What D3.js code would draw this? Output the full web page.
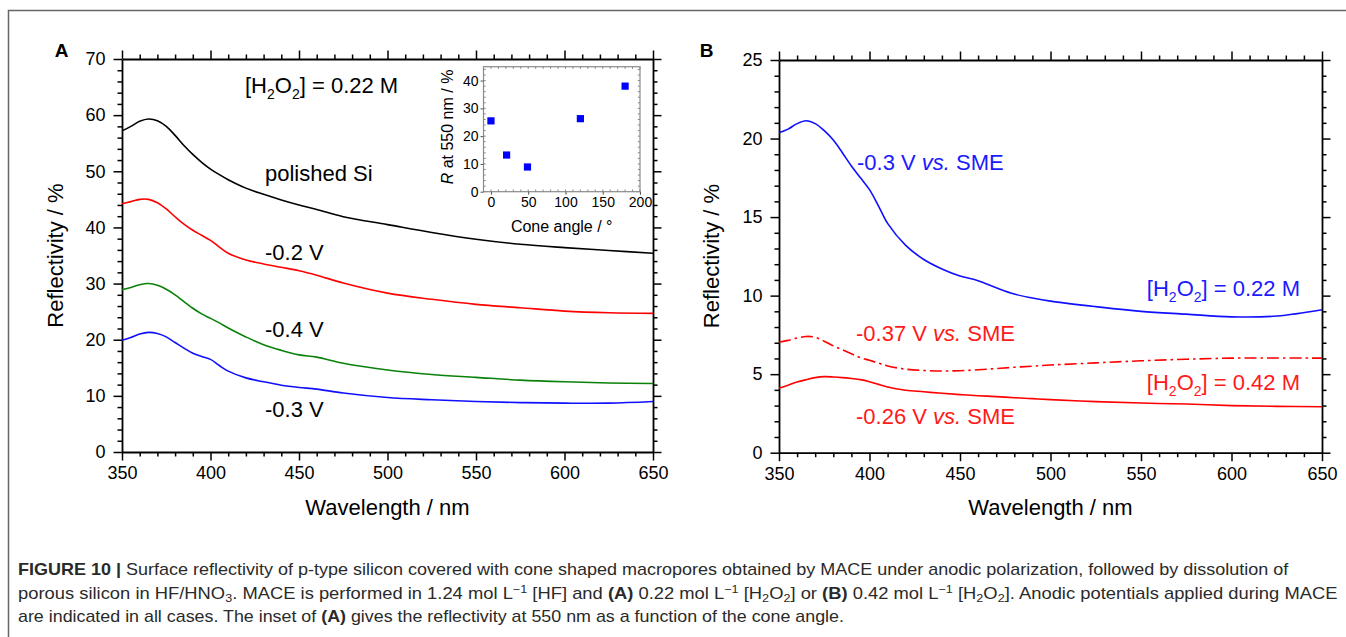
<!DOCTYPE html>
<html><head><meta charset="utf-8">
<script src="https://cdn.jsdelivr.net/npm/d3@7"></script>
<style>
body{margin:0;background:#fff}
svg{display:block}
text{font-family:"Liberation Sans",Arial,Helvetica,sans-serif}
</style>
</head><body><script>
// ---------- data ----------
const wavelengthsA = [350,355,360,365,370,375,380,385,390,395,400,405,410,420,430,440,450,460,475,500,525,550,575,600,625,650];
const polishedSi = [57.2,58.0,58.9,59.3,59.0,58.0,56.4,54.6,53.0,51.6,50.4,49.4,48.5,47.0,45.9,44.9,44.0,43.2,41.9,40.5,39.1,37.9,37.0,36.4,35.9,35.4];
const minus02V   = [44.2,44.6,45.0,45.0,44.4,43.3,41.9,40.6,39.5,38.6,37.7,36.5,35.4,34.2,33.5,32.9,32.3,31.5,30.1,28.3,27.2,26.3,25.7,25.1,24.8,24.7];
const minus04V   = [28.9,29.3,29.8,30.0,29.7,29.0,28.0,26.8,25.6,24.6,23.8,23.0,22.1,20.5,19.1,18.1,17.3,16.9,15.8,14.6,13.8,13.3,12.8,12.5,12.3,12.2];
const minus03V   = [19.9,20.4,21.0,21.3,21.1,20.5,19.5,18.5,17.6,17.0,16.5,15.4,14.4,13.2,12.5,11.9,11.5,11.2,10.5,9.7,9.3,9.0,8.8,8.7,8.7,9.0];

const wavelengthsB = [350,355,360,365,370,375,380,385,390,395,400,405,410,420,430,440,450,460,470,480,490,500,525,550,575,600,625,650];
const b022_m030 = [20.37,20.6,20.95,21.13,20.95,20.5,19.9,19.1,18.25,17.5,16.75,15.7,14.6,13.2,12.3,11.7,11.25,10.95,10.5,10.1,9.85,9.65,9.3,9.0,8.82,8.65,8.7,9.1];
const b042_m037 = [7.03,7.15,7.3,7.4,7.35,7.1,6.8,6.55,6.3,6.05,5.88,5.7,5.52,5.32,5.23,5.2,5.22,5.28,5.36,5.44,5.51,5.58,5.72,5.85,5.95,6.02,6.03,6.02];
const b042_m026 = [4.1,4.3,4.5,4.65,4.78,4.84,4.82,4.78,4.72,4.65,4.52,4.35,4.18,3.98,3.88,3.78,3.7,3.63,3.57,3.5,3.44,3.38,3.25,3.16,3.1,3.0,2.95,2.93];

const coneAngles = [0,21,49,120,180];
const reflectAt550 = [25.5,13.2,8.9,26.3,38.0];

const xTicks = [350,400,450,500,550,600,650];
const yTicksA = [0,10,20,30,40,50,60,70];
const yTicksB = [0,5,10,15,20,25];
const insetXTicks = [0,50,100,150,200];
const insetYTicks = [0,10,20,30,40];

// ---------- setup ----------
const W = 1346, H = 637;
const svg = d3.select("body").append("svg").attr("width", W).attr("height", H);
svg.append("rect").attr("width", W).attr("height", H).attr("fill", "#fff");
svg.append("path").attr("d", `M8.5,${H} V10.5 H${W}`).attr("fill", "none").attr("stroke", "#666").attr("stroke-width", 1.5);

function rich(sel, parts) {
  let shift = 0;
  parts.forEach(p => {
    if (typeof p === "string") p = {t: p};
    const ts = sel.append("tspan").text(p.t);
    const target = p.sub ? p.sub : (p.sup ? -p.sup : 0);
    if (target !== shift) { ts.attr("dy", target - shift); shift = target; }
    if (p.size) ts.attr("font-size", p.size);
    if (p.bold) ts.attr("font-weight", "bold");
    if (p.italic) ts.attr("font-style", "italic");
  });
  return sel;
}

function styleAxis(g, labelSize) {
  g.select(".domain").attr("stroke", "#000").attr("stroke-width", 1.8);
  g.selectAll(".tick line").attr("stroke", "#000").attr("stroke-width", 1.5);
  g.selectAll(".tick text").attr("font-size", labelSize).attr("fill", "#000")
    .attr("font-family", '"Liberation Sans",Arial,sans-serif');
  g.attr("font-family", null).attr("font-size", null);
}

function frameAxes(x, y, xMajor, xMinor, yMajor, yMinor) {
  const [x0, x1] = x.range();
  const [y0, y1] = y.range();
  const fmt = d3.format("d");
  const defs = [
    [d3.axisBottom, x, xMajor, xMinor, `translate(0,${y0})`, true, 6],
    [d3.axisTop, x, xMajor, xMinor, `translate(0,${y1})`, false, 6],
    [d3.axisLeft, y, yMajor, yMinor, `translate(${x0},0)`, true, 8],
    [d3.axisRight, y, yMajor, yMinor, `translate(${x1},0)`, false, 8]
  ];
  defs.forEach(([ax, sc, maj, min, tr, lab, pad]) => {
    const gMin = svg.append("g").attr("transform", tr)
      .call(ax(sc).tickValues(min).tickSize(4.5).tickSizeOuter(0).tickFormat(""));
    gMin.select(".domain").remove();
    styleAxis(gMin, 18);
    const gMaj = svg.append("g").attr("transform", tr)
      .call(ax(sc).tickValues(maj).tickSize(8.5).tickSizeOuter(0).tickPadding(pad).tickFormat(lab ? fmt : ""));
    styleAxis(gMaj, 18);
  });
}

const range = (a, b, s) => d3.range(a, b + 0.001, s);

// ---------- Panel A ----------
const xA = d3.scaleLinear().domain([350, 650]).range([122, 653]);
const yA = d3.scaleLinear().domain([0, 70]).range([452, 59]);
frameAxes(xA, yA, xTicks, range(350, 650, 10).filter(d => d % 50), yTicksA, range(0, 70, 2).filter(d => d % 10));

const seriesA = [
  {vals: polishedSi, color: "#000000"},
  {vals: minus02V, color: "#ff0000"},
  {vals: minus04V, color: "#0a820a"},
  {vals: minus03V, color: "#1010ff"}
];
const lineA = d3.line().x(d => xA(d[0])).y(d => yA(d[1])).curve(d3.curveCatmullRom.alpha(0.5));
seriesA.forEach(s => {
  svg.append("path").datum(wavelengthsA.map((w, i) => [w, s.vals[i]]))
    .attr("d", lineA).attr("fill", "none").attr("stroke", s.color).attr("stroke-width", 1.6);
});

svg.append("text").attr("x", 61.5).attr("y", 57).attr("text-anchor", "middle")
  .attr("font-size", 19).attr("font-weight", "bold").text("A");
rich(svg.append("text").attr("x", 245).attr("y", 93).attr("font-size", 22),
  ["[H", {t: "2", sub: 6, size: 14}, "O", {t: "2", sub: 6, size: 14}, "] = 0.22 M"]);
svg.append("text").attr("x", 265).attr("y", 181).attr("font-size", 22).text("polished Si");
svg.append("text").attr("x", 265).attr("y", 260).attr("font-size", 22).text("-0.2 V");
svg.append("text").attr("x", 265).attr("y", 337).attr("font-size", 22).text("-0.4 V");
svg.append("text").attr("x", 265).attr("y", 417).attr("font-size", 22).text("-0.3 V");
svg.append("text").attr("transform", "translate(55,255.5) rotate(-90)").attr("dy", "0.35em")
  .attr("text-anchor", "middle").attr("font-size", 22).text("Reflectivity / %");
svg.append("text").attr("x", 387.5).attr("y", 515).attr("text-anchor", "middle")
  .attr("font-size", 22).text("Wavelength / nm");

// ---------- Inset ----------
const xI = d3.scaleLinear().domain([-10, 200]).range([483.5, 640]);
const yI = d3.scaleLinear().domain([0, 45]).range([191.7, 66.7]);
svg.append("rect").attr("x", 483.5).attr("y", 66.7).attr("width", 640 - 483.5).attr("height", 191.7 - 66.7)
  .attr("fill", "none").attr("stroke", "#8a8a8a").attr("stroke-width", 1.2);
const insetMinorX = range(0, 200, 10);
const insetMinorY = range(0, 45, 2);
const gMinorI = svg.append("g").attr("stroke", "#8a8a8a").attr("stroke-width", 1);
insetMinorX.forEach(v => {
  gMinorI.append("line").attr("x1", xI(v)).attr("x2", xI(v)).attr("y1", 191.7).attr("y2", 189.5);
  gMinorI.append("line").attr("x1", xI(v)).attr("x2", xI(v)).attr("y1", 66.7).attr("y2", 68.9);
});
insetMinorY.forEach(v => {
  gMinorI.append("line").attr("y1", yI(v)).attr("y2", yI(v)).attr("x1", 483.5).attr("x2", 485.7);
  gMinorI.append("line").attr("y1", yI(v)).attr("y2", yI(v)).attr("x1", 640).attr("x2", 637.8);
});
const gIx = svg.append("g").attr("transform", "translate(0,191.7)")
  .call(d3.axisBottom(xI).tickValues(insetXTicks).tickSize(3).tickPadding(2).tickSizeOuter(0));
gIx.select(".domain").remove();
styleAxis(gIx, 14);
gIx.selectAll(".tick line").attr("stroke", "#555").attr("stroke-width", 1);
const gIy = svg.append("g").attr("transform", "translate(483.5,0)")
  .call(d3.axisLeft(yI).tickValues(insetYTicks).tickSize(3).tickPadding(2).tickSizeOuter(0));
gIy.select(".domain").remove();
styleAxis(gIy, 14);
gIy.selectAll(".tick line").attr("stroke", "#555").attr("stroke-width", 1);
svg.append("g").selectAll("rect").data(coneAngles.map((a, i) => [a, reflectAt550[i]])).join("rect")
  .attr("x", d => xI(d[0]) - 3.6).attr("y", d => yI(d[1]) - 3.6)
  .attr("width", 7.2).attr("height", 7.2).attr("fill", "#0000ff");
svg.append("text").attr("x", 561.7).attr("y", 232).attr("text-anchor", "middle")
  .attr("font-size", 16).text("Cone angle / °");
rich(svg.append("text").attr("transform", "translate(447,127) rotate(-90)").attr("dy", "0.35em")
  .attr("text-anchor", "middle").attr("font-size", 16),
  [{t: "R", italic: true}, " at 550 nm / %"]);

// ---------- Panel B ----------
const xB = d3.scaleLinear().domain([350, 650]).range([779, 1322]);
const yB = d3.scaleLinear().domain([0, 25]).range([452.7, 60]);
frameAxes(xB, yB, xTicks, range(350, 650, 10).filter(d => d % 50), yTicksB, range(0, 25, 1).filter(d => d % 5));

const lineB = d3.line().x(d => xB(d[0])).y(d => yB(d[1])).curve(d3.curveCatmullRom.alpha(0.5));
const seriesB = [
  {vals: b022_m030, color: "#1010ff", dash: null},
  {vals: b042_m037, color: "#ff0000", dash: "12,4,2.5,4"},
  {vals: b042_m026, color: "#ff0000", dash: null}
];
seriesB.forEach(s => {
  const p = svg.append("path").datum(wavelengthsB.map((w, i) => [w, s.vals[i]]))
    .attr("d", lineB).attr("fill", "none").attr("stroke", s.color).attr("stroke-width", 1.6);
  if (s.dash) p.attr("stroke-dasharray", s.dash);
});

svg.append("text").attr("x", 706.5).attr("y", 57).attr("text-anchor", "middle")
  .attr("font-size", 19).attr("font-weight", "bold").text("B");
rich(svg.append("text").attr("x", 857).attr("y", 170).attr("font-size", 22).attr("fill", "#1a1aff"),
  ["-0.3 V ", {t: "vs.", italic: true}, " SME"]);
rich(svg.append("text").attr("x", 1300).attr("y", 296).attr("text-anchor", "end").attr("font-size", 22).attr("fill", "#1a1aff"),
  ["[H", {t: "2", sub: 6, size: 14}, "O", {t: "2", sub: 6, size: 14}, "] = 0.22 M"]);
rich(svg.append("text").attr("x", 856).attr("y", 341).attr("font-size", 22).attr("fill", "#ff1a1a"),
  ["-0.37 V ", {t: "vs.", italic: true}, " SME"]);
rich(svg.append("text").attr("x", 1300).attr("y", 390).attr("text-anchor", "end").attr("font-size", 22).attr("fill", "#ff1a1a"),
  ["[H", {t: "2", sub: 6, size: 14}, "O", {t: "2", sub: 6, size: 14}, "] = 0.42 M"]);
rich(svg.append("text").attr("x", 856).attr("y", 424).attr("font-size", 22).attr("fill", "#ff1a1a"),
  ["-0.26 V ", {t: "vs.", italic: true}, " SME"]);
svg.append("text").attr("transform", "translate(711,256) rotate(-90)").attr("dy", "0.35em")
  .attr("text-anchor", "middle").attr("font-size", 22).text("Reflectivity / %");
svg.append("text").attr("x", 1050.5).attr("y", 515).attr("text-anchor", "middle")
  .attr("font-size", 22).text("Wavelength / nm");

// ---------- Caption ----------
const capLines = [
  {y: 575, w: 1272, parts: [{t: "FIGURE 10 |", bold: true}, " Surface reflectivity of p-type silicon covered with cone shaped macropores obtained by MACE under anodic polarization, followed by dissolution of"]},
  {y: 598.5, w: 1320, parts: ["porous silicon in HF/HNO", {t: "3", sub: 3, size: 11}, ". MACE is performed in 1.24 mol L", {t: "\u22121", sup: 6, size: 11}, " [HF] and ", {t: "(A)", bold: true}, " 0.22 mol L", {t: "\u22121", sup: 6, size: 11}, " [H", {t: "2", sub: 3, size: 11}, "O", {t: "2", sub: 3, size: 11}, "] or ", {t: "(B)", bold: true}, " 0.42 mol L", {t: "\u22121", sup: 6, size: 11}, " [H", {t: "2", sub: 3, size: 11}, "O", {t: "2", sub: 3, size: 11}, "]. Anodic potentials applied during MACE"]},
  {y: 622, w: 827, parts: ["are indicated in all cases. The inset of ", {t: "(A)", bold: true}, " gives the reflectivity at 550 nm as a function of the cone angle."]}
];
capLines.forEach(l => {
  const t = svg.append("text").attr("x", 0).attr("y", 0).attr("font-size", 16).attr("fill", "#2a2a2a");
  rich(t, l.parts);
  const len = t.node().getComputedTextLength();
  const sx = l.w / len;
  t.attr("transform", `translate(18,${l.y}) scale(${sx},1)`);
});
</script></body></html>
